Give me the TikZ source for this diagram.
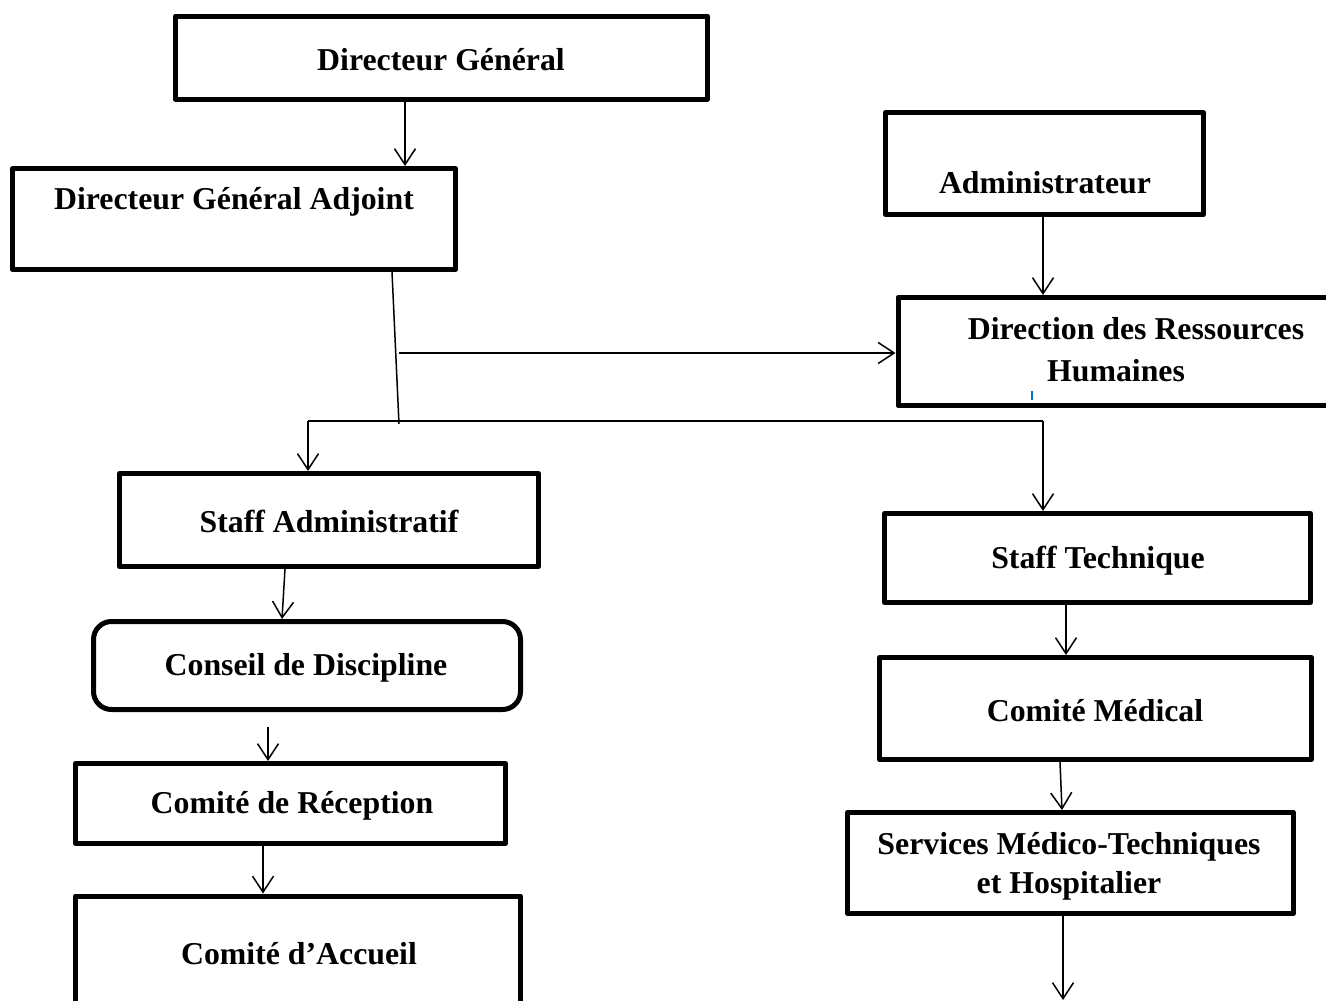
\documentclass[tikz,border=0pt]{standalone}
\usepackage{fontspec}
\setmainfont{Liberation Serif}
\usetikzlibrary{arrows.meta}
\tikzset{
  box/.style={draw, line width=5pt, inner sep=0pt, line join=round},
  lbl/.style={font=\bfseries\fontsize{31.8}{36}\selectfont, inner sep=0pt, anchor=center},
  conn/.style={line width=1.5pt, -{Straight Barb[length=16pt, width=21pt]}},
  plain/.style={line width=1.5pt},
  thin/.style={line width=1.2pt}
}
\begin{document}
\begin{tikzpicture}[x=1pt, y=-1pt]
\fill[white] (0,0) rectangle (1326,1001);
\useasboundingbox (0,0) rectangle (1326,1001);
\clip (0,0) rectangle (1326,1001);

% boxes
\node[box, minimum width=532pt, minimum height=83pt] (dg) at (441.5,57.5) {};
\node[box, minimum width=443pt, minimum height=101pt] (dga) at (234,219) {};
\node[box, minimum width=318pt, minimum height=102pt] (adm) at (1044.5,163.5) {};
\node[box, minimum width=440pt, minimum height=108pt] (drh) at (1118,351.5) {};
\node[box, minimum width=419pt, minimum height=93pt] (sa) at (329,520) {};
\node[box, rounded corners=18pt, minimum width=427pt, minimum height=88pt] (cd) at (307,665.5) {};
\node[box, minimum width=430pt, minimum height=80pt] (cr) at (290.5,803.5) {};
\node[box, minimum width=445pt, minimum height=114pt] (ca) at (298,953) {};
\node[box, minimum width=426pt, minimum height=89pt] (st) at (1097.5,558) {};
\node[box, minimum width=432pt, minimum height=102pt] (cm) at (1095.5,708.5) {};
\node[box, minimum width=446pt, minimum height=101pt] (sm) at (1070.5,863) {};

% labels
\node[lbl] (tdg) at (441,60) {Directeur Général};
\node[lbl] (tdga) at (234,202) {Directeur Général Adjoint};
\node[lbl] (tadm) at (1045,183) {Administrateur};
\node[lbl] (tdrh1) at (1136,329) {Direction des Ressources};
\node[lbl] (tdrh2) at (1116,371) {Humaines};
\node[lbl] (tsa) at (329,521) {Staff Administratif};
\node[lbl] (tcd) at (306,668) {Conseil de Discipline};
\node[lbl] (tcr) at (292,806) {Comité de Réception};
\node[lbl] (tca) at (299,954) {Comité d’Accueil};
\node[lbl] (tst) at (1098,561) {Staff Technique};
\node[lbl] (tcm) at (1095,711) {Comité Médical};
\node[lbl] (tsm1) at (1069,847) {Services Médico-Techniques};
\node[lbl] (tsm2) at (1069,886) {et Hospitalier};

% blue cursor mark
\draw[line width=1.5pt, color={rgb,255:red,0;green,112;blue,192}] (1032,391) -- (1032,400);

% connector coordinates
\coordinate (x1) at (405,0);
\coordinate (x2) at (392,0);
\coordinate (j1) at (399,424);
\coordinate (h1) at (399,353);
\coordinate (bl) at (308,421);
\coordinate (br) at (1043,421);
\coordinate (xa) at (1043,0);
\coordinate (xs1) at (285,0);
\coordinate (xs2) at (282,0);
\coordinate (c7) at (268,727);
\coordinate (xr) at (263,0);
\coordinate (xt) at (1066,0);
\coordinate (xm1) at (1060,0);
\coordinate (xm2) at (1062,0);
\coordinate (xe) at (1063,0);
\coordinate (endS) at (1063,1000);

% connectors
\draw[conn] (dg.south -| x1) -- (dga.north -| x1);
\draw[plain] (dga.south -| x2) -- (j1);
\draw[conn] (h1) -- (h1 -| drh.west);
\draw[thin] (br) -- (bl);
\draw[conn] (bl) -- (bl |- sa.north);
\draw[conn] (br) -- (br |- st.north);
\draw[conn] (adm.south -| xa) -- (drh.north -| xa);
\draw[conn] (sa.south -| xs1) -- (cd.north -| xs2);
\draw[conn] (c7) -- (c7 |- cr.north);
\draw[conn] (cr.south -| xr) -- (ca.north -| xr);
\draw[conn] (st.south -| xt) -- (cm.north -| xt);
\draw[conn] (cm.south -| xm1) -- (sm.north -| xm2);
\draw[conn] (sm.south -| xe) -- (endS);
\end{tikzpicture}
\end{document}
